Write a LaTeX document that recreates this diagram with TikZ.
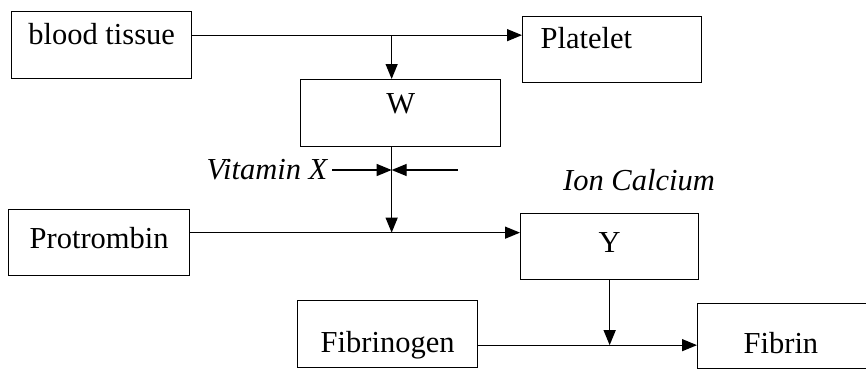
\documentclass[tikz,border=0pt]{standalone}
\usepackage{fontspec}
\setmainfont{Liberation Serif}
\usetikzlibrary{arrows.meta}

\begin{document}
\begin{tikzpicture}[x=1pt,y=-1pt]
    \tikzstyle{box}=[rectangle,draw,line width=1.3pt,inner sep=0pt,anchor=north west,font=\fontsize{30.5}{35}\selectfont]
    \tikzstyle{lbl}=[inner sep=5pt,font=\fontsize{30.5}{35}\selectfont\itshape]
    \tikzstyle{flow}=[line width=1.3pt,-{Triangle[length=15pt,width=12pt]}]

    \clip (0,0) rectangle (866,370);

    \node[box,minimum width=180pt,text height=33pt,text depth=34pt] (blood) at (11,11) {blood tissue};
    \node[box,inner xsep=18pt,text width=143pt,align=left,text height=32pt,text depth=34pt] (platelet) at (522,16) {Platelet};
    \node[box,minimum width=200pt,text height=34pt,text depth=33pt] (W) at (300,79) {W};
    \node[box,minimum width=181pt,text height=39pt,text depth=27pt] (protrombin) at (8,209) {Protrombin};
    \node[box,minimum width=178pt,text height=39pt,text depth=27pt] (Y) at (520,213) {Y};
    \node[box,minimum width=180pt,text height=52pt,text depth=15pt] (fibrinogen) at (297,300) {Fibrinogen};
    \node[box,inner xsep=46pt,text width=100pt,align=left,text height=50pt,text depth=15pt] (fibrin) at (697,303) {Fibrin};

    \node[lbl] (vitx) at (267,170) {Vitamin X};
    \node[lbl] (ion) at (639,180) {Ion Calcium};

    % tissue -> platelet, branch to W
    \coordinate (b1) at ([yshift=10pt]blood.east);
    \draw[flow] (b1) -- (b1 -| platelet.west);
    \draw[flow] ([xshift=-9pt]W.north |- b1) -- ([xshift=-9pt]W.north);

    % vitamin X and calcium join below W
    \coordinate (j2) at ([xshift=-9pt]W.south |- vitx.east);
    \coordinate (ca) at ([xshift=66pt]j2);
    \draw[flow] (vitx.east) -- (j2);
    \draw[flow] (ca) -- (j2);

    \coordinate (p1) at ([yshift=10pt]protrombin.east);
    \draw[flow] (p1) -- (p1 -| Y.west);
    \draw[flow] ([xshift=-9pt]W.south) -- ([xshift=-9pt]W.south |- p1);

    \coordinate (f1) at ([yshift=-11pt]fibrinogen.east);
    \draw[flow] (f1) -- (f1 -| fibrin.west);
    \draw[flow] (Y.south) -- (Y.south |- f1);
\end{tikzpicture}
\end{document}
